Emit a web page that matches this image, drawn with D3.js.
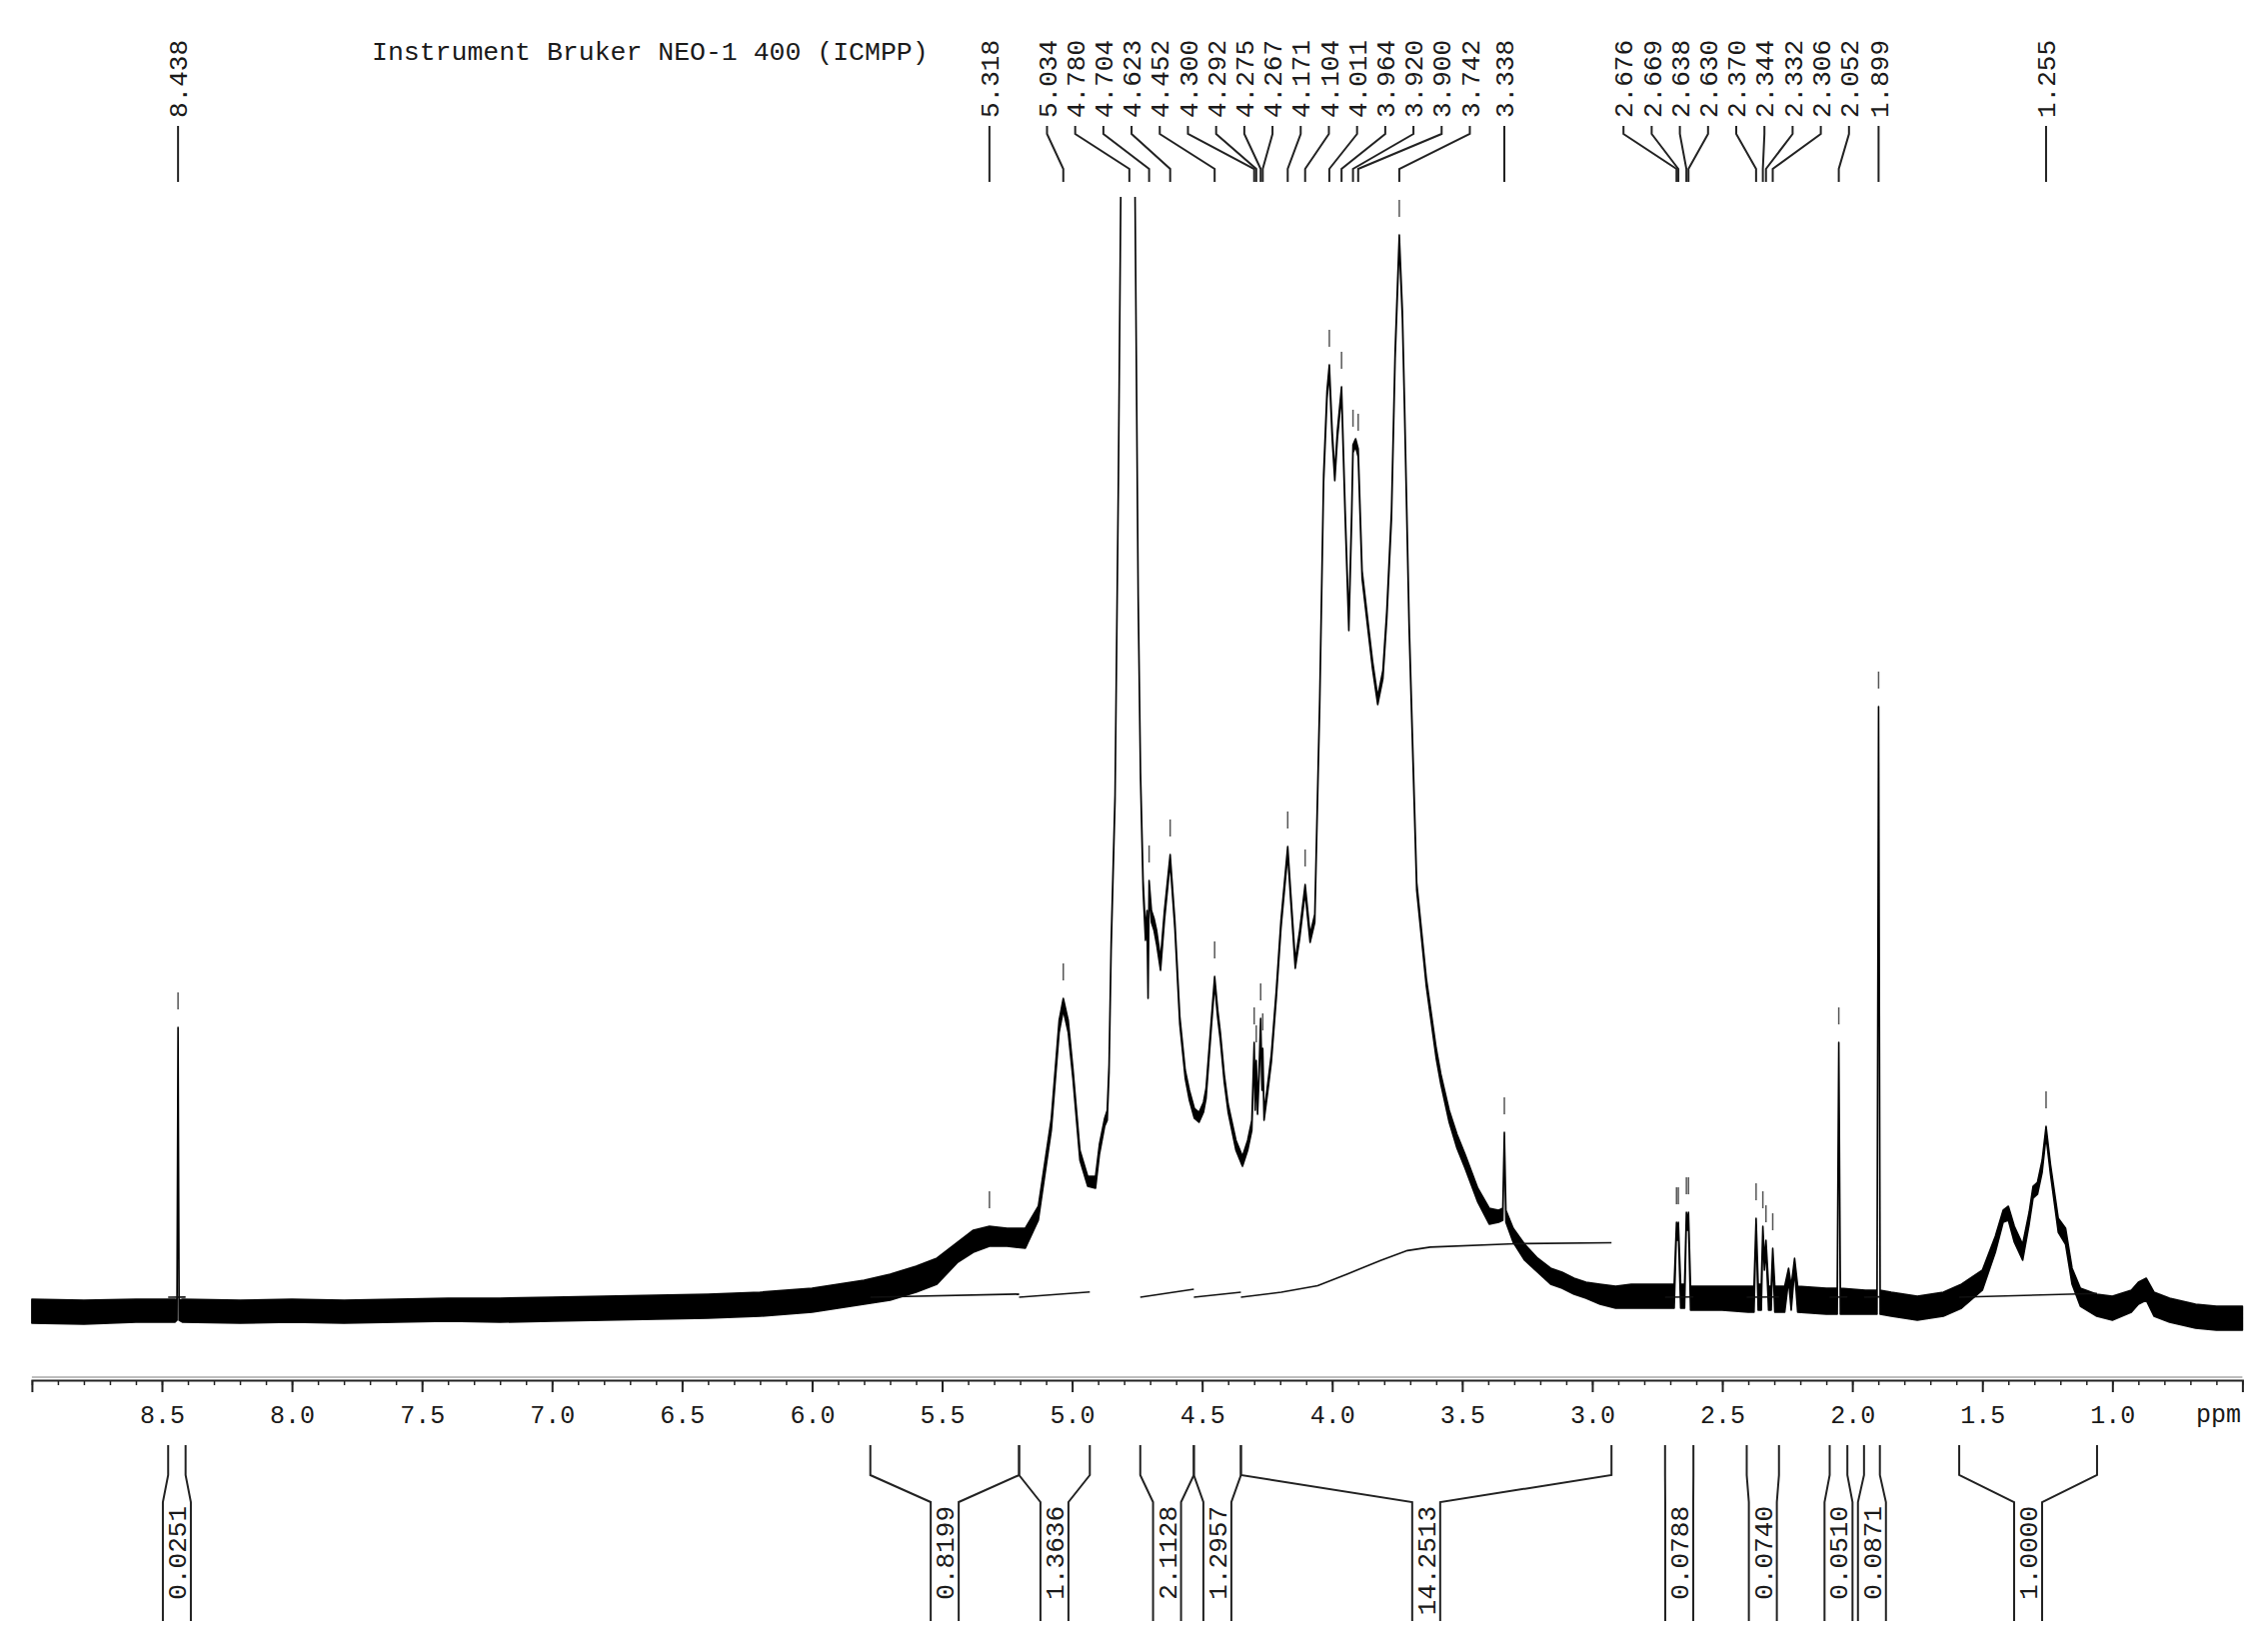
<!DOCTYPE html>
<html>
<head>
<meta charset="utf-8">
<script src="https://cdn.jsdelivr.net/npm/d3@7"></script>
<style>
  body { margin: 0; background: #fff; }
  text { font-family: "Liberation Mono", "DejaVu Sans Mono", monospace; fill: #1a1a1a; }
</style>
</head>
<body>
<svg id="nmr" width="2268" height="1653"></svg>
<script>
// spectrum trace: chemical shift (ppm) and the top / bottom of the drawn trace
var shift = [9.00, 8.80, 8.60, 8.45, 8.442, 8.438, 8.434, 8.42, 8.20, 8.00, 7.80, 7.60, 7.40, 7.20, 7.00, 6.80, 6.60, 6.40, 6.20, 6.00,
  5.90, 5.80, 5.70, 5.60, 5.52, 5.44, 5.38, 5.318, 5.25, 5.18, 5.13, 5.08, 5.05, 5.034, 5.015, 4.997, 4.97, 4.94, 4.91, 4.895,
  4.875, 4.865, 4.858, 4.85, 4.835, 4.822, 4.812, 4.79, 4.78, 4.77, 4.759, 4.746, 4.737, 4.727, 4.718, 4.712, 4.708, 4.704, 4.695, 4.685,
  4.675, 4.66, 4.645, 4.623, 4.605, 4.586, 4.565, 4.549, 4.53, 4.512, 4.495, 4.485, 4.465, 4.452, 4.44, 4.43, 4.415, 4.40, 4.37, 4.345,
  4.325, 4.309, 4.300, 4.296, 4.292, 4.287, 4.280, 4.275, 4.270, 4.267, 4.262, 4.25, 4.234, 4.215, 4.197, 4.171, 4.16, 4.142, 4.125, 4.104,
  4.085, 4.067, 4.048, 4.033, 4.020, 4.011, 4.000, 3.990, 3.980, 3.964, 3.950, 3.936, 3.925, 3.920, 3.910, 3.900, 3.885, 3.862, 3.845, 3.825,
  3.805, 3.790, 3.772, 3.758, 3.742, 3.730, 3.722, 3.704, 3.675, 3.638, 3.60, 3.582, 3.55, 3.52, 3.489, 3.44, 3.396, 3.36, 3.344, 3.338,
  3.332, 3.304, 3.26, 3.21, 3.16, 3.116, 3.07, 3.024, 2.97, 2.91, 2.85, 2.75, 2.685, 2.676, 2.6725, 2.669, 2.660, 2.645, 2.638, 2.634,
  2.630, 2.622, 2.50, 2.40, 2.378, 2.370, 2.362, 2.350, 2.344, 2.338, 2.332, 2.322, 2.312, 2.306, 2.298, 2.26, 2.245, 2.235, 2.222, 2.21,
  2.10, 2.058, 2.052, 2.046, 1.95, 1.905, 1.899, 1.893, 1.85, 1.75, 1.65, 1.58, 1.50, 1.45, 1.42, 1.40, 1.377, 1.345, 1.32, 1.305,
  1.288, 1.270, 1.255, 1.238, 1.208, 1.18, 1.155, 1.123, 1.06, 1.00, 0.927, 0.90, 0.87, 0.84, 0.78, 0.68, 0.60, 0.50]
var upper = [11, 10, 11, 11, 10, 283, 10, 11, 10, 11, 10, 11, 12, 12, 13, 14, 15, 16, 18, 22,
  26, 30, 36, 44, 52, 68, 80, 84, 82, 82, 104, 192, 290, 312, 290, 242, 160, 134, 134, 166,
  192, 200, 246, 368, 516, 836, 1150, 1400, 1500, 1400, 1150, 716, 538, 430, 380, 400, 320, 430, 400, 392,
  380, 352, 400, 456, 390, 294, 240, 220, 202, 198, 208, 222, 290, 334, 300, 278, 236, 206, 170, 154,
  170, 190, 268, 210, 250, 204, 250, 292, 230, 262, 198, 222, 256, 320, 390, 464, 420, 350, 380, 426,
  376, 396, 612, 836, 920, 946, 880, 838, 880, 924, 800, 688, 800, 866, 872, 862, 740, 688, 650, 614,
  640, 700, 800, 960, 1076, 1000, 910, 688, 428, 332, 262, 236, 200, 176, 156, 122, 102, 100, 102, 178,
  100, 82, 66, 52, 42, 38, 32, 28, 26, 24, 26, 26, 26, 88, 78, 88, 26, 26, 98, 88,
  98, 24, 24, 24, 24, 92, 26, 26, 84, 50, 70, 24, 24, 62, 24, 24, 42, 24, 52, 24,
  22, 22, 268, 22, 20, 20, 604, 20, 18, 14, 18, 26, 40, 74, 100, 104, 84, 66, 98, 124,
  128, 150, 184, 146, 92, 82, 42, 22, 16, 14, 20, 28, 32, 18, 12, 6, 4, 4]
var lower = [-13, -14, -12, -12, -10, 270, -10, -12, -13, -12, -13, -12, -11, -12, -11, -10, -9, -8, -6, -2,
  2, 6, 10, 18, 26, 48, 58, 64, 64, 62, 90, 180, 278, 300, 278, 232, 150, 124, 122, 156,
  184, 190, 238, 360, 510, 830, 1144, 1390, 1490, 1390, 1144, 710, 532, 420, 370, 390, 312, 420, 388, 380,
  366, 340, 390, 448, 382, 286, 232, 210, 192, 188, 198, 212, 282, 326, 292, 270, 228, 198, 160, 144,
  160, 180, 260, 200, 242, 196, 240, 284, 220, 254, 190, 214, 248, 312, 382, 456, 412, 342, 372, 418,
  368, 388, 604, 828, 912, 938, 872, 830, 872, 916, 792, 680, 792, 858, 864, 854, 732, 680, 642, 606,
  632, 692, 792, 952, 1068, 992, 902, 680, 420, 324, 252, 226, 188, 162, 142, 108, 86, 88, 90, 170,
  88, 68, 50, 38, 26, 22, 16, 12, 6, 2, 2, 2, 2, 80, 70, 80, 2, 2, 90, 80,
  90, 0, 0, -2, -2, 84, 0, 0, 76, 40, 62, 0, 0, 54, -2, -2, 30, 0, 40, -2,
  -4, -4, 260, -4, -4, -4, 596, -4, -6, -10, -6, 2, 20, 58, 88, 90, 68, 50, 86, 112,
  116, 138, 174, 136, 78, 66, 26, 4, -6, -10, -2, 6, 10, -6, -12, -18, -20, -20]

// picked peaks
var peakLabels = ['8.438', '5.318', '5.034', '4.780', '4.704', '4.623', '4.452', '4.300', '4.292', '4.275',
  '4.267', '4.171', '4.104', '4.011', '3.964', '3.920', '3.900', '3.742', '3.338', '2.676', '2.669', '2.638',
  '2.630', '2.370', '2.344', '2.332', '2.306', '2.052', '1.899', '1.255']

// integral regions (ppm) and their values
var integralFrom = [8.476, 5.776, 5.204, 4.738, 4.532, 4.351, 2.720, 2.406, 2.087, 1.955, 1.589]
var integralTo = [8.409, 5.204, 4.932, 4.532, 4.351, 2.926, 2.611, 2.282, 2.019, 1.894, 1.059]
var integralValues = ['0.0251', '0.8199', '1.3636', '2.1128', '1.2957', '14.2513', '0.0788', '0.0740', '0.0510', '0.0871', '1.0000']
// running integral of the large 4.35 - 2.93 region
var bigIntegralPpm = [4.351, 4.196, 4.056, 3.941, 3.814, 3.711, 3.623, 3.297, 2.926]
var bigIntegralCum = [0, 1.3, 3.0, 6.1, 9.6, 12.2, 13.1, 14.0, 14.25]

var majorTicks = [8.5, 8.0, 7.5, 7.0, 6.5, 6.0, 5.5, 5.0, 4.5, 4.0, 3.5, 3.0, 2.5, 2.0, 1.5, 1.0]

var title = 'Instrument Bruker NEO-1 400 (ICMPP)'

// helpers
function spreadLabels(items, gap) {
  // merge neighbouring labels into clusters centred on their mean position
  var clusters = items.map(function (d) { return {members: [d], center: d.x} })
  var changed = true
  while (changed) {
    changed = false
    for (var i = 0; i < clusters.length - 1; i++) {
      var a = clusters[i], b = clusters[i + 1]
      var aRight = a.center + (a.members.length - 1) * gap / 2
      var bLeft = b.center - (b.members.length - 1) * gap / 2
      if (bLeft - aRight < gap) {
        var members = a.members.concat(b.members)
        clusters.splice(i, 2, {members: members, center: d3.mean(members, function (m) { return m.x })})
        changed = true
        break
      }
    }
  }
  clusters.forEach(function (c) {
    c.members.forEach(function (m, k) {
      m.lx = c.center + (k - (c.members.length - 1) / 2) * gap
    })
  })
  return items
}

function heightAt(ppm) {
  for (var i = 0; i < shift.length - 1; i++) {
    if (shift[i] >= ppm && shift[i + 1] <= ppm) {
      var t = (shift[i] - ppm) / (shift[i] - shift[i + 1])
      return upper[i] + t * (upper[i + 1] - upper[i])
    }
  }
  return 0
}

// drawing
var svg = d3.select('#nmr')
var axisY = 1381

var x = d3.scaleLinear().domain([9.0, 0.5]).range([31.9, 2243.4])
var y = d3.scaleLinear().domain([0, 1114]).range([1311, 197])
var yInt = d3.scaleLinear().domain([0, 14.25]).range([1298, 1243.5])

svg.append('defs').append('clipPath').attr('id', 'plotclip')
  .append('rect').attr('x', 0).attr('y', y(1114)).attr('width', 2268).attr('height', axisY - y(1114))

var plot = svg.append('g').attr('clip-path', 'url(#plotclip)')

var trace = shift.map(function (p, i) { return {ppm: p, hi: upper[i], lo: lower[i]} })

plot.append('path')
  .datum(trace)
  .attr('d', d3.area().x(function (d) { return x(d.ppm) }).y0(function (d) { return y(d.lo) }).y1(function (d) { return y(d.hi) }))
  .attr('fill', '#000')
  .attr('stroke', '#000')
  .attr('stroke-width', 1.6)
  .attr('stroke-linejoin', 'round')

// integral curves
var intLine = d3.line().x(function (d) { return x(d[0]) }).y(function (d) { return yInt(d[1]) })
integralFrom.forEach(function (from, i) {
  var pts
  if (integralValues[i] === '14.2513') {
    pts = bigIntegralPpm.map(function (p, k) { return [p, bigIntegralCum[k]] })
  } else {
    pts = [[from, 0], [integralTo[i], +integralValues[i]]]
  }
  plot.append('path').attr('d', intLine(pts))
    .attr('fill', 'none').attr('stroke', '#111').attr('stroke-width', 1.6)
})

// peak markers
var peaks = peakLabels.map(function (s) { return {label: s, ppm: +s, x: x(+s)} })
peaks.forEach(function (p) {
  var top = y(heightAt(p.ppm))
  plot.append('line')
    .attr('x1', p.x).attr('x2', p.x)
    .attr('y1', top - 35).attr('y2', top - 18)
    .attr('stroke', '#555').attr('stroke-width', 1.5)
})

// peak labels with leaders
spreadLabels(peaks, 28.2)
var labels = svg.append('g')
peaks.forEach(function (p) {
  labels.append('path')
    .attr('d', 'M' + p.lx + ',126V134L' + p.x + ',169V182')
    .attr('fill', 'none').attr('stroke', '#222').attr('stroke-width', 2)
  labels.append('text')
    .attr('transform', 'translate(' + p.lx + ',118) rotate(-90)')
    .attr('dy', '0.35em')
    .attr('font-size', 26)
    .text(p.label)
})

svg.append('text')
  .attr('x', 372).attr('y', 60)
  .attr('font-size', 26.5)
  .text(title)

// axis
svg.append('line')
  .attr('x1', x(9.0)).attr('x2', x(0.5)).attr('y1', axisY - 3).attr('y2', axisY - 3)
  .attr('stroke', '#bdbdbd').attr('stroke-width', 2)

var majorAxis = svg.append('g')
  .attr('transform', 'translate(0,' + axisY + ')')
  .call(d3.axisBottom(x).tickValues(majorTicks).tickSize(12).tickSizeOuter(12).tickPadding(13)
    .tickFormat(d3.format('.1f')))
majorAxis.select('.domain').attr('stroke', '#222').attr('stroke-width', 2)
majorAxis.selectAll('.tick line').attr('stroke', '#222').attr('stroke-width', 2)
majorAxis.selectAll('.tick text')
  .attr('font-family', '"Liberation Mono", monospace').attr('font-size', 25).attr('fill', '#1a1a1a')

var minorAxis = svg.append('g')
  .attr('transform', 'translate(0,' + axisY + ')')
  .call(d3.axisBottom(x).tickValues(d3.range(90, 4, -1).map(function (v) { return v / 10 })).tickSize(5).tickSizeOuter(0).tickFormat(''))
minorAxis.select('.domain').remove()
minorAxis.selectAll('.tick line').attr('stroke', '#222').attr('stroke-width', 1.5)

svg.append('text')
  .attr('x', 2242).attr('y', 1423)
  .attr('text-anchor', 'end')
  .attr('font-size', 25)
  .text('ppm')

// integral brackets
var boxes = integralFrom.map(function (from, i) {
  var x1 = x(from), x2 = x(integralTo[i])
  return {x1: x1, x2: x2, x: (x1 + x2) / 2, label: integralValues[i]}
})
spreadLabels(boxes, 28.4)
var half = 14
var brackets = svg.append('g')
boxes.forEach(function (b) {
  brackets.append('path')
    .attr('d', 'M' + b.x1 + ',1446V1476L' + (b.lx - half) + ',1503V1622')
    .attr('fill', 'none').attr('stroke', '#222').attr('stroke-width', 2)
  brackets.append('path')
    .attr('d', 'M' + b.x2 + ',1446V1476L' + (b.lx + half) + ',1503V1622')
    .attr('fill', 'none').attr('stroke', '#222').attr('stroke-width', 2)
  brackets.append('text')
    .attr('transform', 'translate(' + b.lx + ',1507) rotate(-90)')
    .attr('text-anchor', 'end')
    .attr('dy', '0.35em')
    .attr('font-size', 26)
    .text(b.label)
})
</script>
</body>
</html>
